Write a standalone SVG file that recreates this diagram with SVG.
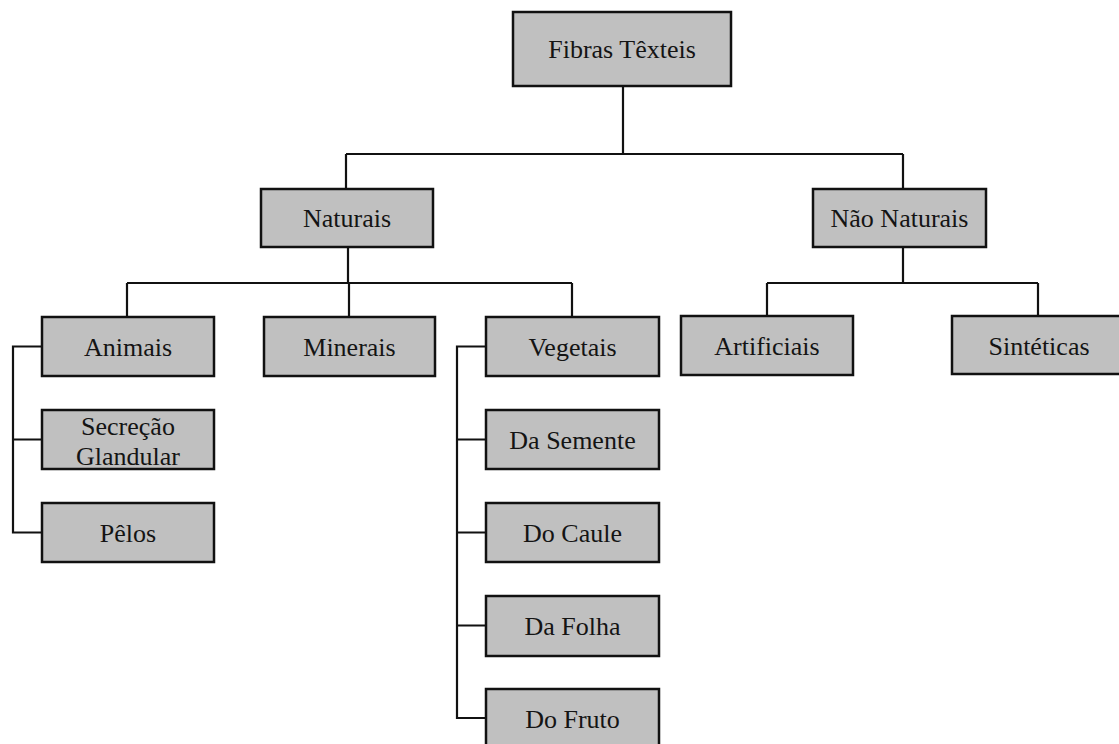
<svg xmlns="http://www.w3.org/2000/svg" width="1119" height="744" viewBox="0 0 1119 744">
  <style>
    .box { fill: #c0c0c0; stroke: #111; stroke-width: 2.5; }
    .lbl { font-family: "Liberation Serif", "Times New Roman", serif; font-size: 26px; fill: #141414; text-anchor: middle; }
    .wire { fill: none; stroke: #111; stroke-width: 2.2; }
  </style>
  <rect width="1119" height="744" fill="#ffffff"/>

  <!-- connectors -->
  <g id="connectors" class="wire">
    <path d="M623 86 V154 M346 154 H903 M346 154 V189 M903 154 V189"/>
    <path d="M348 247 V283 M127 283 H572 M127 283 V317 M349 283 V317 M572 283 V317"/>
    <path d="M903 247 V283 M767 283 H1038 M767 283 V316 M1038 283 V316"/>
    <path d="M42 346.5 H13 V532.5 H42 M13 439.5 H42"/>
    <path d="M486 346.5 H457 V718 H486 M457 439.5 H486 M457 532.5 H486 M457 625.5 H486"/>
  </g>

  <!-- root -->
  <g id="fibras-texteis">
    <rect class="box" x="513" y="12" width="218" height="74"/>
    <text class="lbl" x="622" y="58">Fibras Têxteis</text>
  </g>

  <!-- level 1 -->
  <g id="naturais">
    <rect class="box" x="261" y="189" width="172" height="58"/>
    <text class="lbl" x="347" y="227">Naturais</text>
  </g>
  <g id="nao-naturais">
    <rect class="box" x="813" y="189" width="173" height="58"/>
    <text class="lbl" x="899.5" y="227">Não Naturais</text>
  </g>

  <!-- level 2 -->
  <g id="animais">
    <rect class="box" x="42" y="317" width="172" height="59"/>
    <text class="lbl" x="128" y="356">Animais</text>
  </g>
  <g id="minerais">
    <rect class="box" x="264" y="317" width="171" height="59"/>
    <text class="lbl" x="349.5" y="356">Minerais</text>
  </g>
  <g id="vegetais">
    <rect class="box" x="486" y="317" width="173" height="59"/>
    <text class="lbl" x="572.5" y="356">Vegetais</text>
  </g>
  <g id="artificiais">
    <rect class="box" x="681" y="316" width="172" height="59"/>
    <text class="lbl" x="767" y="355">Artificiais</text>
  </g>
  <g id="sinteticas">
    <rect class="box" x="952" y="316" width="172" height="58"/>
    <text class="lbl" x="1039" y="355">Sintéticas</text>
  </g>

  <!-- animal fibres -->
  <g id="secrecao-glandular">
    <rect class="box" x="42" y="410" width="172" height="59"/>
    <text class="lbl" x="128" y="435">Secreção</text>
    <text class="lbl" x="128" y="465">Glandular</text>
  </g>
  <g id="pelos">
    <rect class="box" x="42" y="503" width="172" height="59"/>
    <text class="lbl" x="128" y="542">Pêlos</text>
  </g>

  <!-- vegetable fibres -->
  <g id="da-semente">
    <rect class="box" x="486" y="410" width="173" height="59"/>
    <text class="lbl" x="572.5" y="449">Da Semente</text>
  </g>
  <g id="do-caule">
    <rect class="box" x="486" y="503" width="173" height="59"/>
    <text class="lbl" x="572.5" y="542">Do Caule</text>
  </g>
  <g id="da-folha">
    <rect class="box" x="486" y="596" width="173" height="60"/>
    <text class="lbl" x="572.5" y="635">Da Folha</text>
  </g>
  <g id="do-fruto">
    <rect class="box" x="486" y="689" width="173" height="60"/>
    <text class="lbl" x="572.5" y="728">Do Fruto</text>
  </g>
</svg>
